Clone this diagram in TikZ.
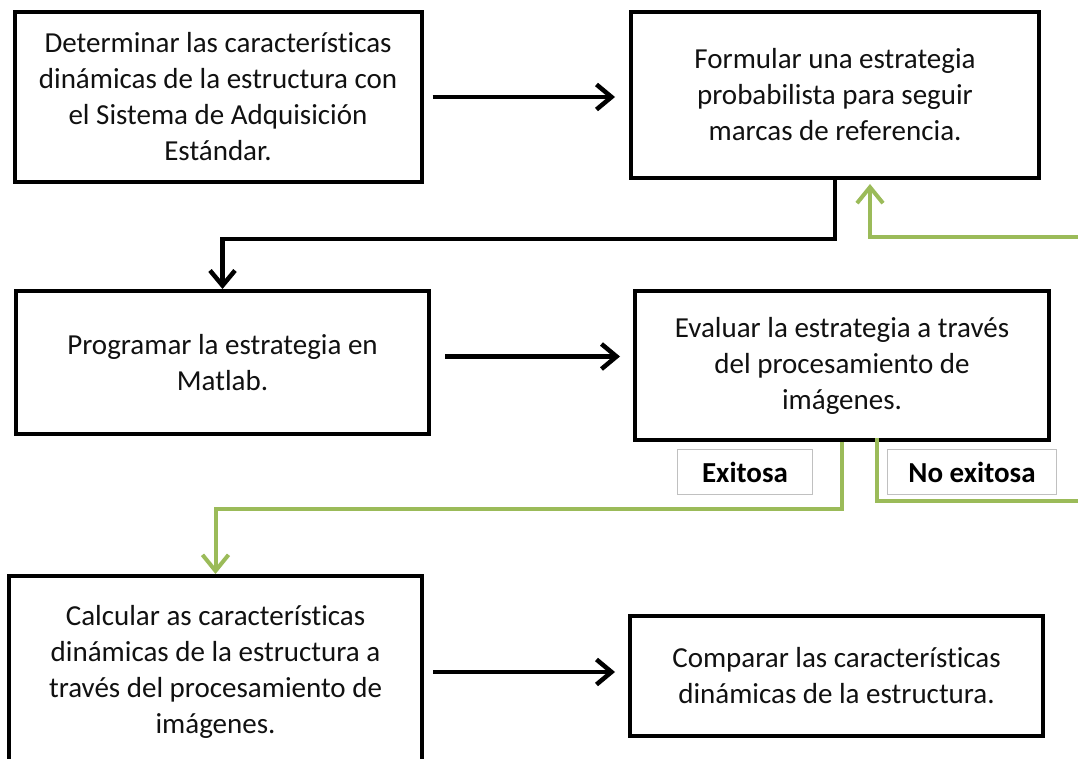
\documentclass[tikz,border=0pt]{standalone}
\usepackage{fontspec}
\setmainfont[Ligatures={NoCommon,NoContextual}]{Carlito}
\usetikzlibrary{arrows.meta,calc}
\definecolor{grn}{HTML}{9BBB59}
\definecolor{lblgray}{HTML}{C0C0C0}
\definecolor{txt}{HTML}{111111}
\begin{document}
\begin{tikzpicture}[x=1pt,y=-1pt,
  box/.style={draw=black, line width=4pt, rectangle, align=center, inner sep=0pt, text=txt,
    font=\fontsize{29}{36}\selectfont},
  lbl/.style={draw=lblgray, line width=1.5pt, rectangle, inner sep=0pt, text=black,
    font=\bfseries\fontsize{29}{36}\selectfont},
  arr/.style={draw=black, line width=4.5pt, -{Straight Barb[length=15pt,width=25pt]}},
  garr/.style={draw=grn, line width=4pt, -{Straight Barb[length=16pt,width=26pt]}},
  gline/.style={draw=grn, line width=4pt}]
\useasboundingbox (0,0) rectangle (1078,759);
\clip (0,0) rectangle (1078,759);
\fill[white] (0,0) rectangle (1078,759);

\node[box, minimum width=407pt, minimum height=170pt] (A) at (218,97)
  {Determinar las características\\dinámicas de la estructura con\\el Sistema de Adquisición\\Estándar.};
\node[box, minimum width=408pt, minimum height=166pt] (B) at (835,95)
  {Formular una estrategia\\probabilista para seguir\\marcas de referencia.};
\node[box, minimum width=413pt, minimum height=143pt] (C) at (222.5,362.5)
  {Programar la estrategia en\\Matlab.};
\node[box, minimum width=414pt, minimum height=149pt] (D) at (842,365.5)
  {Evaluar la estrategia a través\\del procesamiento de\\imágenes.};
\node[box, minimum width=413pt, minimum height=192pt] (E) at (215.5,672)
  {Calcular as características\\dinámicas de la estructura a\\través del procesamiento de\\imágenes.};
\node[box, minimum width=413pt, minimum height=120pt] (F) at (836.5,676)
  {Comparar las características\\dinámicas de la estructura.};

\node[lbl, minimum width=135pt, minimum height=45pt] (L1) at (745,472) {\raisebox{-3pt}{Exitosa}};
\node[lbl, minimum width=169pt, minimum height=45pt] (L2) at (972,472) {\raisebox{-3pt}{No exitosa}};

\coordinate (R) at (1100,237);

% black connectors
\draw[arr, shorten <=9pt, shorten >=14pt] (A.east) -- (B.west |- A.east);
\draw[arr, shorten <=14pt, shorten >=13pt] ([yshift=6]C.east) -- ([yshift=6]D.west |- C.east);
\draw[arr, shorten <=9pt, shorten >=13pt] (E.east) -- (F.west |- E.east);
\draw[arr] (B.south) -- ++(0,59) -| (C.north);

% green connectors
\draw[garr] (D.south) -- ++(0,67) -| (E.north);
\draw[garr, shorten >=4pt] ([xshift=35pt,yshift=4pt]D.south) -- ++(0,63) -| (R) -| ([xshift=35pt]B.south);
\end{tikzpicture}
\end{document}
